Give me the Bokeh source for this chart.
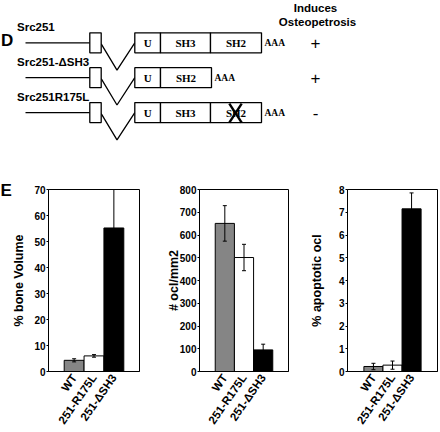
from bokeh.plotting import figure
from bokeh.models import (Range1d, FactorRange, ColumnDataSource, Whisker, TeeHead,
                          FixedTicker)
from bokeh.layouts import column, row
from bokeh.embed import file_html
from bokeh.resources import INLINE
from bokeh.core.properties import value

# ---------------- data: construct diagram (panel D) ----------------
constructs = ["Src251", "Src251-\u0394SH3", "Src251R175L"]
domains = [["U", "SH3", "SH2"], ["U", "SH2"], ["U", "SH3", "SH2"]]
mutated_domain = [None, None, "SH2"]
induces = ["+", "+", "-"]
column_title = ["Induces", "Osteopetrosis"]

# ---------------- data: bar charts (panel E) ----------------
groups = ["WT", "251-R175L", "251-\u0394SH3"]
bone_volume = [4.3, 6.0, 55.2]
bone_volume_err = [0.6, 0.5, 14.8]
ocl_density = [651, 501, 95]
ocl_density_err = [78, 58, 25]
apoptotic_ocl = [0.22, 0.28, 7.15]
apoptotic_ocl_err = [0.14, 0.18, 0.70]
bar_colors = ["#858585", "#ffffff", "#000000"]

SANS = "Liberation Sans"
SERIF = "Liberation Serif"

# ---------------- panel D: schematic ----------------
D_H = 175
d = figure(width=440, height=D_H, x_range=Range1d(0, 440), y_range=Range1d(D_H, 0),
           output_backend="svg", toolbar_location=None, min_border=0,
           x_axis_location=None, y_axis_location=None)
d.grid.visible = False
d.outline_line_color = None

dom_w = {"U": 25.7, "SH3": 50.0, "SH2": 51.0}
row0, row_step = 42.3, 34.9
lead_x0, lead_x1 = 25.0, 89.3
exon_x1 = 100.7
box_x0 = 134.3
half_h = 10.0

seg = dict(x0=[], y0=[], x1=[], y1=[])
quads = dict(l=[], r=[], t=[], b=[])
vx, vy = [], []
dlab = dict(x=[], y=[], t=[])
aaa = dict(x=[], y=[], t=[])
xs_mark = dict(x0=[], y0=[], x1=[], y1=[])
for i, name in enumerate(constructs):
    ym = row0 + row_step * i
    seg["x0"].append(lead_x0); seg["x1"].append(lead_x1)
    seg["y0"].append(ym); seg["y1"].append(ym)
    quads["l"].append(lead_x1); quads["r"].append(exon_x1)
    quads["t"].append(ym - half_h); quads["b"].append(ym + half_h)
    vx.append([exon_x1, 116.5, box_x0]); vy.append([ym + 1, ym + 27.3, ym])
    x = box_x0
    for dm in domains[i]:
        w = dom_w[dm]
        quads["l"].append(x); quads["r"].append(x + w)
        quads["t"].append(ym - half_h); quads["b"].append(ym + half_h)
        dlab["x"].append(x + w / 2); dlab["y"].append(ym + 0.5); dlab["t"].append(dm)
        if mutated_domain[i] == dm:
            cx = x + w / 2 - 0.5
            xs_mark["x0"] += [cx - 6.2, cx - 6.2]; xs_mark["x1"] += [cx + 6.2, cx + 6.2]
            xs_mark["y0"] += [ym - half_h + 1, ym + half_h]
            xs_mark["y1"] += [ym + half_h, ym - half_h + 1]
        x += w
    aaa["x"].append(x + 3); aaa["y"].append(ym); aaa["t"].append("AAA")

d.segment(x0="x0", y0="y0", x1="x1", y1="y1", source=ColumnDataSource(seg),
          line_color="black", line_width=1.3)
d.multi_line(xs=vx, ys=vy, line_color="black", line_width=1.3)
d.quad(left="l", right="r", top="t", bottom="b", source=ColumnDataSource(quads),
       fill_color="white", line_color="black", line_width=1.3)
d.text(x="x", y="y", text="t", source=ColumnDataSource(dlab), text_font=value(SERIF),
       text_font_style="bold", text_font_size="11px", text_align="center",
       text_baseline="middle", text_color="black")
d.segment(x0="x0", y0="y0", x1="x1", y1="y1", source=ColumnDataSource(xs_mark),
          line_color="black", line_width=2.4)
d.text(x="x", y="y", text="t", source=ColumnDataSource(aaa), text_font=value(SERIF),
       text_font_style="bold", text_font_size="9.5px", text_align="left",
       text_baseline="middle", text_color="black")
d.text(x=[16.5] * 3, y=[row0 - 16 + row_step * i for i in range(3)], text=constructs,
       text_font=value(SANS), text_font_style="bold", text_font_size="11.5px",
       text_align="left", text_baseline="middle", text_color="black")
d.text(x=[315] * 3, y=[row0 + 0.5 + row_step * i for i in range(3)], text=induces,
       text_font=value(SANS), text_font_size="17px", text_align="center",
       text_baseline="middle", text_color="black")
d.text(x=[315, 317], y=[7.5, 21.5], text=column_title, text_font=value(SANS),
       text_font_style="bold", text_font_size="11.5px", text_align="center",
       text_baseline="middle", text_color="black")
d.text(x=[0.5], y=[40], text=["D"], text_font=value(SANS), text_font_style="bold",
       text_font_size="17px", text_align="left", text_baseline="alphabetic",
       text_color="black")


# ---------------- panel E: bar charts ----------------
def bar_panel(vals, errs, ymax, step, ylabel, width, bl, br, pad, lab_standoff):
    src = ColumnDataSource(dict(g=groups, v=vals,
                                lo=[v - e for v, e in zip(vals, errs)],
                                hi=[v + e for v, e in zip(vals, errs)],
                                c=bar_colors))
    p = figure(x_range=FactorRange(factors=groups, range_padding=pad,
                                   range_padding_units="absolute"),
               y_range=Range1d(0, ymax), width=width, height=257,
               min_border_left=bl, min_border_right=br, min_border_top=14,
               min_border_bottom=60, output_backend="svg", toolbar_location=None)
    p.vbar(x="g", top="v", width=1.0, source=src, fill_color="c",
           line_color="black", line_width=1)
    p.add_layout(Whisker(base="g", upper="hi", lower="lo", source=src,
                         line_color="black", line_width=1, level="overlay",
                         upper_head=TeeHead(size=4, line_color="black", line_width=1),
                         lower_head=TeeHead(size=4, line_color="black", line_width=1)))
    p.grid.visible = False
    p.outline_line_color = "black"
    p.outline_line_alpha = 1
    p.outline_line_width = 1
    p.axis.axis_line_color = "black"
    p.axis.axis_line_width = 1
    p.yaxis.ticker = FixedTicker(ticks=list(range(0, ymax + 1, step)))
    p.yaxis.major_tick_out = 2
    p.yaxis.major_tick_in = 0
    p.yaxis.minor_tick_out = 0
    p.yaxis.minor_tick_in = 0
    p.yaxis.major_label_standoff = 1
    p.yaxis.major_label_text_font = SANS
    p.yaxis.major_label_text_font_style = "bold"
    p.yaxis.major_label_text_font_size = "10px"
    p.yaxis.major_label_text_color = "black"
    p.yaxis.axis_label = ylabel
    p.yaxis.axis_label_text_font = SANS
    p.yaxis.axis_label_text_font_style = "bold"
    p.yaxis.axis_label_text_font_size = "12.5px"
    p.yaxis.axis_label_text_color = "black"
    p.yaxis.axis_label_standoff = lab_standoff
    p.xaxis.major_tick_out = 0
    p.xaxis.major_tick_in = 0
    p.xaxis.major_label_orientation = 0.96
    p.xaxis.major_label_standoff = 4
    p.xaxis.major_label_text_font = SANS
    p.xaxis.major_label_text_font_style = "bold"
    p.xaxis.major_label_text_font_size = "11.5px"
    p.xaxis.major_label_text_color = "black"
    return p


pa = bar_panel(bone_volume, bone_volume_err, 70, 10, "% bone Volume", 150, 48, 11, 0.79, 5)
pb = bar_panel(ocl_density, ocl_density_err, 800, 100, "# ocl/mm2", 146, 49, 8, 0.82, -4)
pc = bar_panel(apoptotic_ocl, apoptotic_ocl_err, 8, 1, "% apoptotic ocl", 144, 51, 3, 0.86, 12)

# panel letter "E" as the first chart's title, pulled left of its frame
pa.title.text = "E"
pa.title.align = "left"
pa.title.offset = -48
pa.title.standoff = -20
pa.title.text_font = SANS
pa.title.text_font_style = "bold"
pa.title.text_font_size = "17px"
pa.title.text_color = "black"

layout = column(d, row(pa, pb, pc))
open("out.html", "w").write(file_html(layout, INLINE))
